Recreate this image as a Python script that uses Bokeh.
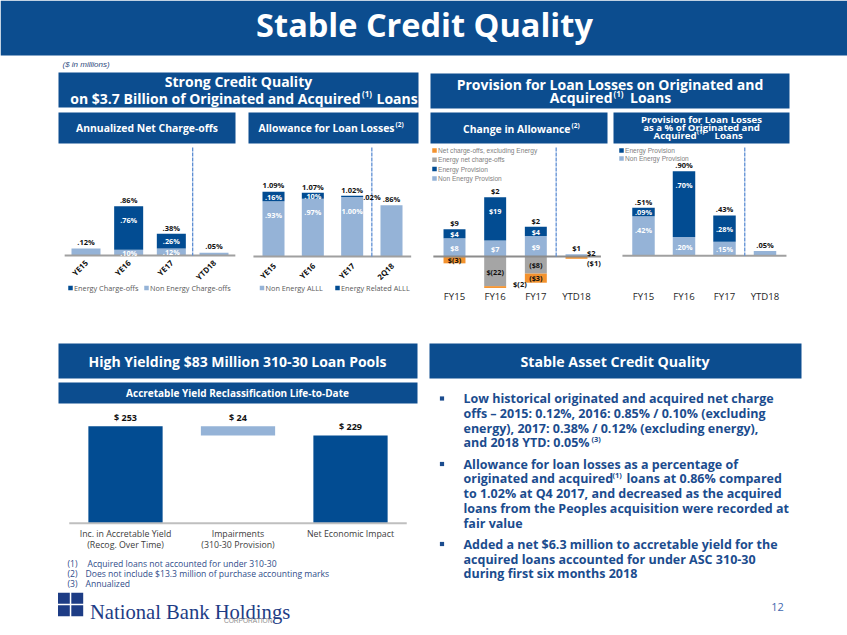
import math
import numpy as np
from bokeh.plotting import figure
from bokeh.models import Range1d
from bokeh.core.properties import value
from bokeh.embed import file_html
from bokeh.resources import INLINE

# ---------------- data ----------------
nco_cats = ["YE15", "YE16", "YE17", "YTD18"]
nco_nonenergy = [0.12, 0.10, 0.12, 0.05]
nco_energy = [0.0, 0.76, 0.26, 0.0]
nco_total_labels = [".12%", ".86%", ".38%", ".05%"]
nco_energy_labels = ["", ".76%", ".26%", ""]
nco_nonenergy_labels = ["", ".10%", ".12%", ""]

alll_cats = ["YE15", "YE16", "YE17", "2Q18"]
alll_nonenergy = [0.93, 0.97, 1.00, 0.86]
alll_energy = [0.16, 0.10, 0.02, 0.0]
alll_total_labels = ["1.09%", "1.07%", "1.02%", ".86%"]
alll_energy_labels = [".16%", ".10%", "", ""]
alll_nonenergy_labels = [".93%", ".97%", "1.00%", ""]
alll_side_label = ".02%"

chg_cats = ["FY15", "FY16", "FY17", "YTD18"]
chg_nonenergy_prov = [8, 7, 9, 1]
chg_energy_prov = [4, 19, 4, 0]
chg_energy_nco = [0, -13, -7.5, 0]
chg_nco_ex_energy = [-3, -0.8, -4, -1]
chg_total_labels = ["$9", "$2", "$2", "$1"]
chg_energy_prov_labels = ["$4", "$19", "$4", ""]
chg_nonenergy_prov_labels = ["$8", "$7", "$9", ""]
chg_energy_nco_labels = ["", "$(22)", "($8)", ""]
chg_nco_ex_labels = ["$(3)", "", "($3)", ""]
chg_side_labels = ["", "$(2)", "", "$2"]
chg_side_labels2 = ["", "", "", "($1)"]

prov_cats = ["FY15", "FY16", "FY17", "YTD18"]
prov_nonenergy = [0.42, 0.20, 0.15, 0.05]
prov_energy = [0.09, 0.70, 0.28, 0.0]
prov_total_labels = [".51%", ".90%", ".43%", ".05%"]
prov_energy_labels = [".09%", ".70%", ".28%", ""]
prov_nonenergy_labels = [".42%", ".20%", ".15%", ""]

acc_cats = [["Inc. in Accretable Yield", "(Recog. Over Time)"],
            ["Impairments", "(310-30 Provision)"],
            ["Net Economic Impact"]]
acc_values = [253, 24, 229]
acc_labels = ["$ 253", "$ 24", "$ 229"]

# ---------------- styling ----------------
W, H = 847, 635
PW, PH = 847, 635
S = PW / W
NAVY = "#0C4D8F"
DARK = "#024C92"
LIGHT = "#95B3D7"
GRAY = "#A5A5A5"
ORANGE = "#F3922E"
TXTBLUE = "#1B4C8E"
DASH = "#5F8FD3"
HF = "Open Sans"

p = figure(width=PW, height=PH, x_range=Range1d(0, W), y_range=Range1d(H, 0),
           output_backend="svg", toolbar_location=None, min_border=0,
           x_axis_location=None, y_axis_location=None)
p.grid.visible = False
p.outline_line_color = None
p.background_fill_color = "white"
p.border_fill_color = "white"


def xr(px0, px1, d0, d1):
    k = (d1 - d0) / (px1 - px0)
    s = d0 - px0 * k
    return Range1d(s, s + W * k)


def yr(py0, py1, v0, v1):
    u0, u1 = H - py0, H - py1
    k = (v1 - v0) / (u1 - u0)
    s = v0 - u0 * k
    return Range1d(s, s + H * k)


p.extra_x_ranges = {
    "c1": xr(85.5, 213.5, 0, 3), "c2": xr(273, 391, 0, 3),
    "c3": xr(454, 576, 0, 3), "c4": xr(643, 764.5, 0, 3),
    "c5": xr(125, 350, 0, 2),
}
SC = {"c1": 57.3, "c2": 59.5, "c3": 2.28, "c4": 94.0, "c5": 97.0 / 253}
p.extra_y_ranges = {
    "c1": yr(255, 255 - 57.3, 0, 1), "c2": yr(256, 256 - 59.5, 0, 1),
    "c3": yr(256, 256 - 22.8, 0, 10), "c4": yr(255.3, 255.3 - 94, 0, 1),
    "c5": yr(522.7, 425.7, 0, 253),
}


def txt(x, y, s, size, color="#000000", style="normal", align="left", base="middle",
        font=HF, angle=0.0, r=None, xrn=None, yrn=None, dx=0, dy=0):
    xrn = xrn or r or "default"
    yrn = yrn or r or "default"
    p.text(x=[x], y=[y], text=[s], text_font=value(font),
           text_font_size=f"{size * S:.2f}px", text_color=color,
           text_font_style=style, text_align=align, text_baseline=base,
           angle=angle, x_offset=dx * S, y_offset=dy * S,
           x_range_name=xrn, y_range_name=yrn)


def box(l, r, t, b, color=NAVY):
    p.quad(left=[l], right=[r], top=[t], bottom=[b], fill_color=color, line_color=None)


# ---------------- title band & headers ----------------
box(0, W, 0, 55)
txt(424, 24, "Stable Credit Quality", 32.5, "white", "bold", "center")
txt(62, 64, "($ in millions)", 8, "#2E4A7D", "italic", font="Liberation Sans")

box(58, 418, 72, 107)
txt(238, 81, "Strong Credit Quality", 14, "white", "bold", "center")
txt(360, 97.5, "on $3.7 Billion of Originated and Acquired", 14, "white", "bold", "right")
txt(361.5, 93, "(1)", 8, "white", "bold")
txt(376, 97.5, "Loans", 14, "white", "bold")

box(430, 789, 73, 108)
txt(609.5, 83.5, "Provision for Loan Losses on Originated and", 14, "white", "bold", "center")
txt(612, 97, "Acquired", 14, "white", "bold", "right")
txt(613, 92.5, "(1)", 8, "white", "bold")
txt(629.5, 97, "Loans", 14, "white", "bold")

box(58, 235, 112, 143)
txt(146.5, 127.5, "Annualized Net Charge-offs", 10.4, "white", "bold", "center")
box(248, 418, 112, 143)
txt(394, 127.5, "Allowance for Loan Losses", 10.4, "white", "bold", "right")
txt(395, 124, "(2)", 6.5, "white", "bold")
box(430, 607, 112, 143)
txt(570, 128.5, "Change in Allowance", 10.4, "white", "bold", "right")
txt(571, 125, "(2)", 6.5, "white", "bold")
box(613, 789, 112, 143)
txt(701, 119, "Provision for Loan Losses", 9.6, "white", "bold", "center")
txt(701, 127, "as a % of Originated and", 9.6, "white", "bold", "center")
txt(696, 134.5, "Acquired", 9.6, "white", "bold", "right")
txt(696.5, 131, "(1)", 6, "white", "bold")
txt(714, 134.5, "Loans", 9.6, "white", "bold")


# ---------------- helpers for stacked bars ----------------
def inner_labels(r, xs, bottoms, tops, labels, color):
    for x, b, t, lab in zip(xs, bottoms, tops, labels):
        if not lab:
            continue
        hpx = abs(t - b) * SC[r]
        if hpx > 30:
            txt(x, max(t, b), lab, 7.3, color, "bold", "center", r=r, dy=13.5)
        else:
            txt(x, (t + b) / 2, lab, 7.3, color, "bold", "center", r=r, dy=0.3)


def total_labels(r, xs, tops, labels, size=7.5):
    for x, t, lab in zip(xs, tops, labels):
        if lab:
            txt(x, t, lab, size, "#111111", "bold", "center", "bottom", r=r, dy=-1.2)


def divider(r, ytop, ybase):
    p.segment(x0=[2.5], x1=[2.5], y0=[ytop], y1=[ybase], line_color=DASH,
              line_width=1.3, line_dash="4 1", x_range_name=r)


def baseline(r, x0, x1, color="#A0A0A0", width=2):
    p.segment(x0=[x0], x1=[x1], y0=[0], y1=[0], line_color=color, line_width=width,
              x_range_name=r, y_range_name=r)


def legend_item(x, y, color, label, size=7.3, font=HF, tcolor="#595959"):
    p.scatter(x=[x], y=[y], marker="square", size=4.5 * S, fill_color=color, line_color=None)
    txt(x + 3.5, y, label, size, tcolor, font=font)


# ---------------- chart 1: net charge-offs ----------------
r = "c1"
xs = np.arange(len(nco_cats))
ne = np.array(nco_nonenergy)
en = np.array(nco_energy)
p.vbar(x=xs, width=0.68, bottom=0, top=ne, fill_color=LIGHT, line_color=None,
       x_range_name=r, y_range_name=r)
p.vbar(x=xs, width=0.68, bottom=ne, top=ne + en, fill_color=DARK, line_color=None,
       x_range_name=r, y_range_name=r)
baseline(r, -0.5, 3.5)
divider(r, 147, 255)
inner_labels(r, xs, ne, ne + en, nco_energy_labels, "white")
inner_labels(r, xs, np.zeros(4), ne, nco_nonenergy_labels, "white")
total_labels(r, xs, ne + en, nco_total_labels)
for i, c in enumerate(nco_cats):
    txt(i, 261, c, 7.8, "#111111", "bold", "right", angle=math.pi / 4, xrn=r, dx=0.5)
legend_item(70, 287.5, DARK, "Energy Charge-offs")
legend_item(146, 287.5, LIGHT, "Non Energy Charge-offs")

# ---------------- chart 2: allowance ----------------
r = "c2"
ne = np.array(alll_nonenergy)
en = np.array(alll_energy)
p.vbar(x=xs, width=0.56, bottom=0, top=ne, fill_color=LIGHT, line_color=None,
       x_range_name=r, y_range_name=r)
p.vbar(x=xs, width=0.56, bottom=ne, top=ne + en, fill_color=DARK, line_color=None,
       x_range_name=r, y_range_name=r)
baseline(r, -0.51, 3.5)
divider(r, 147, 256)
inner_labels(r, xs, ne, ne + en, alll_energy_labels, "white")
inner_labels(r, xs, np.zeros(4), ne, alll_nonenergy_labels, "white")
total_labels(r, xs, ne + en, alll_total_labels)
txt(2.28, ne[2] + en[2], alll_side_label, 7.5, "#111111", "bold", "left", r=r, dy=1)
for i, c in enumerate(alll_cats):
    txt(i, 264, c, 7.8, "#111111", "bold", "right", angle=math.pi / 4, xrn=r, dx=1)
legend_item(261.5, 287.5, LIGHT, "Non Energy ALLL")
legend_item(337, 287.5, DARK, "Energy Related ALLL")

# ---------------- chart 3: change in allowance ----------------
r = "c3"
nep = np.array(chg_nonenergy_prov, dtype=float)
ep = np.array(chg_energy_prov, dtype=float)
enc = np.array(chg_energy_nco, dtype=float)
nxe = np.array(chg_nco_ex_energy, dtype=float)
p.vbar(x=xs, width=0.54, bottom=0, top=nep, fill_color=LIGHT, line_color=None,
       x_range_name=r, y_range_name=r)
p.vbar(x=xs, width=0.54, bottom=nep, top=nep + ep, fill_color=DARK, line_color=None,
       x_range_name=r, y_range_name=r)
p.vbar(x=xs, width=0.54, bottom=0, top=enc, fill_color=GRAY, line_color=None,
       x_range_name=r, y_range_name=r)
p.vbar(x=xs, width=0.54, bottom=enc, top=enc + nxe, fill_color=ORANGE, line_color=None,
       x_range_name=r, y_range_name=r)
baseline(r, -0.52, 3.6, "#8C8C8C", 1.8)
divider(r, 147, 256)
inner_labels(r, xs, nep, nep + ep, chg_energy_prov_labels, "white")
inner_labels(r, xs, np.zeros(4), nep, chg_nonenergy_prov_labels, "white")
inner_labels(r, xs, np.zeros(4), enc, chg_energy_nco_labels, "#111111")
inner_labels(r, xs, enc, enc + nxe, chg_nco_ex_labels, "#111111")
total_labels(r, xs, nep + ep, chg_total_labels)
for i in range(4):
    if chg_side_labels[i]:
        if i == 1:
            txt(i + 0.44, enc[i] + nxe[i], chg_side_labels[i], 7.5, "#111111", "bold", r=r, dy=-3.5)
        else:
            txt(i + 0.26, 0, chg_side_labels[i], 7.5, "#111111", "bold", r=r, dy=-3.8)
    if chg_side_labels2[i]:
        txt(i + 0.26, 0, chg_side_labels2[i], 7.5, "#111111", "bold", r=r, dy=6.3)
for i, c in enumerate(chg_cats):
    txt(i, 296, c, 9.6, "#262626", "normal", "center", xrn=r)
for k, (col, lab) in enumerate([(ORANGE, "Net charge-offs, excluding Energy"),
                                (GRAY, "Energy net charge-offs"),
                                (DARK, "Energy Provision"),
                                (LIGHT, "Non Energy Provision")]):
    legend_item(434, 150 + k * 9.3, col, lab, 6.6, "Liberation Sans", "#7F7F7F")

# ---------------- chart 4: provision % ----------------
r = "c4"
ne = np.array(prov_nonenergy)
en = np.array(prov_energy)
p.vbar(x=xs, width=0.555, bottom=0, top=ne, fill_color=LIGHT, line_color=None,
       x_range_name=r, y_range_name=r)
p.vbar(x=xs, width=0.555, bottom=ne, top=ne + en, fill_color=DARK, line_color=None,
       x_range_name=r, y_range_name=r)
baseline(r, -0.52, 3.53)
divider(r, 147, 255.3)
inner_labels(r, xs, ne, ne + en, prov_energy_labels, "white")
inner_labels(r, xs, np.zeros(4), ne, prov_nonenergy_labels, "white")
total_labels(r, xs, ne + en, prov_total_labels)
for i, c in enumerate(prov_cats):
    txt(i, 296, c, 9.6, "#262626", "normal", "center", xrn=r)
legend_item(621, 150, DARK, "Energy Provision", 6.6, "Liberation Sans", "#7F7F7F")
legend_item(621, 158, LIGHT, "Non Energy Provision", 6.6, "Liberation Sans", "#7F7F7F")

# ---------------- bottom left: 310-30 pools ----------------
box(58, 417, 343, 378)
txt(237, 361, "High Yielding $83 Million 310-30 Loan Pools", 14, "white", "bold", "center")
box(58, 417, 382, 403)
txt(237, 392.5, "Accretable Yield Reclassification Life-to-Date", 10, "white", "bold", "center")

r = "c5"
v = acc_values
p.vbar(x=[0, 2], width=0.66, bottom=0, top=[v[0], v[2]], fill_color=DARK, line_color=None,
       x_range_name=r, y_range_name=r)
p.vbar(x=[1], width=0.66, bottom=[v[0] - v[1]], top=[v[0]], fill_color=LIGHT, line_color=None,
       x_range_name=r, y_range_name=r)
baseline(r, -0.5, 2.5, "#BFBFBF", 2)
for i, (lab, top) in enumerate(zip(acc_labels, [v[0], v[0], v[2]])):
    txt(i, top, lab, 9, "#111111", "bold", "center", "bottom", r=r, dy=-2)
for i, lines in enumerate(acc_cats):
    for j, ln in enumerate(lines):
        txt(i, 533.5 + j * 10.5, ln, 8.8, "#404040", "normal", "center", xrn=r)

# footnotes
FN = "#2F4C8A"
for j, (n, t) in enumerate([("(1)", "Acquired loans not accounted for under  310-30"),
                            ("(2)", "Does not include $13.3 million of purchase accounting marks"),
                            ("(3)", "Annualized")]):
    txt(67, 563 + j * 10, n, 8.6, FN)
    txt(87 if j == 0 else 85, 563 + j * 10, t, 8.6, FN)

# logo
LOGO = "#1D3C85"
for (l, rr, t, b) in [(57.5, 69.3, 592.3, 603.2), (70.8, 82.7, 592.3, 603.2),
                      (57.5, 69.3, 604.7, 615.7), (70.8, 82.7, 604.7, 615.7)]:
    box(l, rr, t, b, LOGO)
txt(89.5, 611.8, "National Bank Holdings", 20.6, LOGO, "normal", "left", "alphabetic",
    font="Liberation Serif")
txt(272, 620, "CORPORATION", 6.6, "#8C8C8C", "normal", "right", font="Liberation Sans")

# ---------------- bottom right: bullets ----------------
box(429, 801, 343, 378)
txt(614.5, 361, "Stable Asset Credit Quality", 14.2, "white", "bold", "center")

BX = 463
BS = 12.5
bullets_y = [398, 463.5, 543.5]
for by in bullets_y:
    p.scatter(x=[441.5], y=[by], marker="square", size=4.2 * S, fill_color=TXTBLUE, line_color=None)

lines = [
    (398, "Low historical originated and acquired net charge"),
    (412.8, "offs \u2013 2015: 0.12%, 2016: 0.85% / 0.10% (excluding"),
    (427.5, "energy), 2017: 0.38% / 0.12% (excluding energy),"),
    (442.2, "and 2018 YTD: 0.05%"),
    (463.5, "Allowance for loan losses as a percentage of"),
    (478.3, "originated and acquired"),
    (493.2, "to 1.02% at Q4 2017, and decreased as the acquired"),
    (508, "loans from the Peoples acquisition were recorded at"),
    (522.8, "fair value"),
    (543.5, "Added a net $6.3 million to accretable yield for the"),
    (558.5, "acquired loans accounted for under ASC 310-30"),
    (573.3, "during first six months 2018"),
]
for y, t in lines:
    txt(BX, y, t, BS, TXTBLUE, "bold")
txt(591, 438.5, "(3)", 7.5, TXTBLUE, "bold")
txt(612, 474.5, "(1)", 7.5, TXTBLUE, "bold")
txt(626, 478.3, "loans at 0.86% compared", BS, TXTBLUE, "bold")

txt(770.7, 606, "12", 11, "#3F67AE")

open("out.html", "w").write(file_html(p, INLINE))
